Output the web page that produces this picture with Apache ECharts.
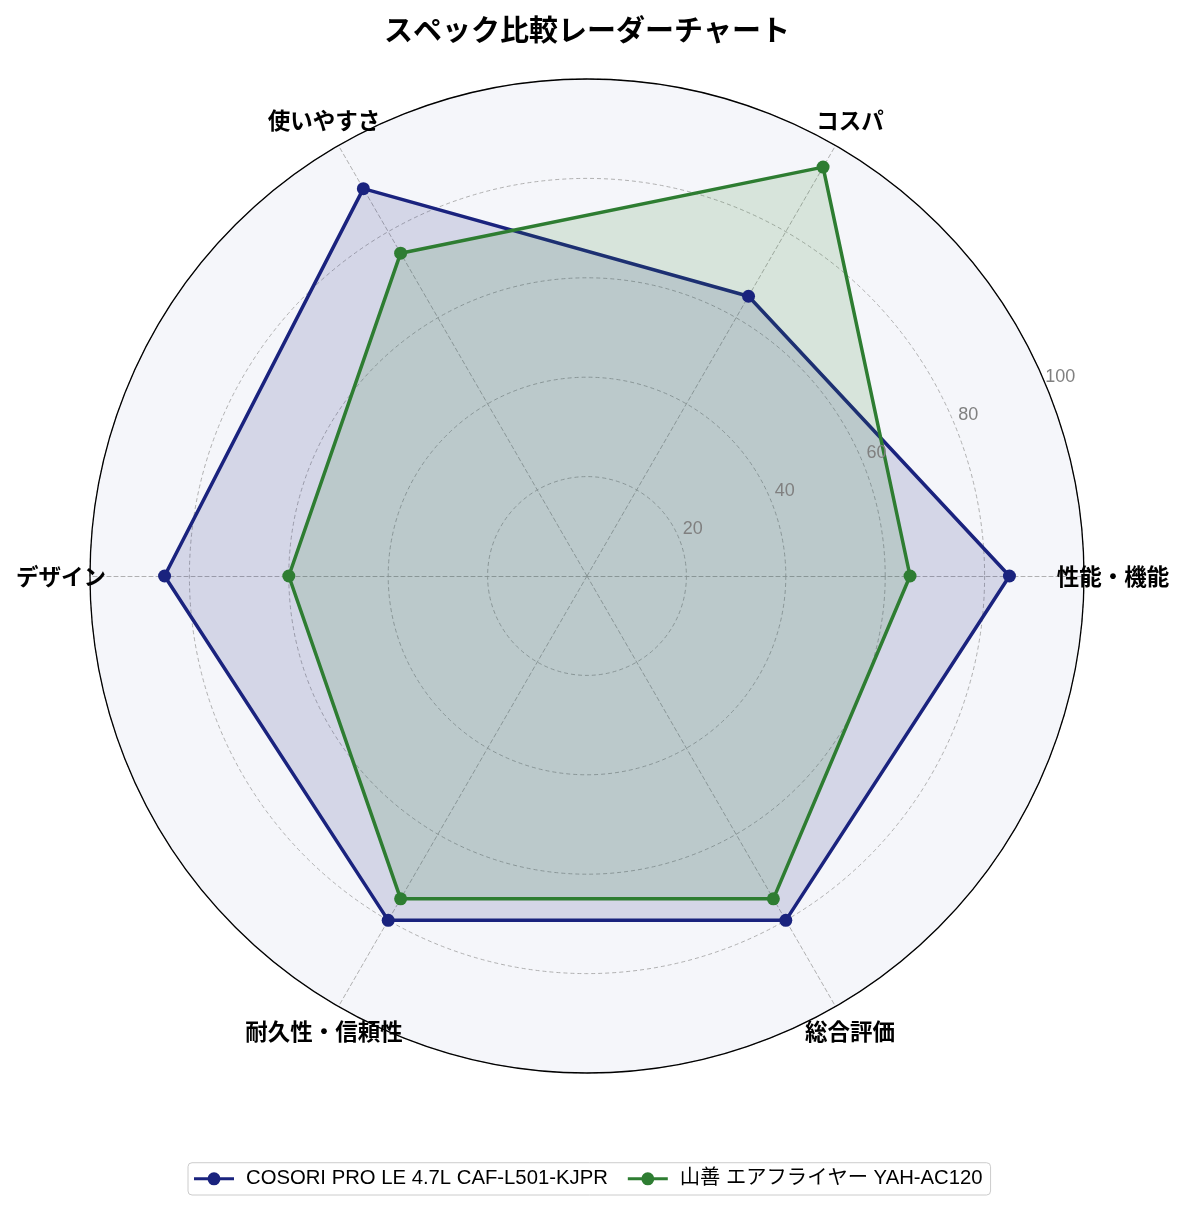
<!DOCTYPE html>
<html><head><meta charset="utf-8">
<script src="https://cdn.jsdelivr.net/npm/echarts@6/dist/echarts.min.js"></script>
<style>html,body{margin:0;padding:0;background:#fff}#c{width:1185px;height:1211px}</style>
</head><body><div id="c"></div>
<script>
const title = 'スペック比較レーダーチャート';
const categories = ['性能・機能', 'コスパ', '使いやすさ', 'デザイン', '耐久性・信頼性', '総合評価'];
const seriesNames = ['COSORI PRO LE 4.7L CAF-L501-KJPR', '山善 エアフライヤー YAH-AC120'];
const cosoriValues = [85, 65, 90, 85, 80, 80];
const yamazenValues = [65, 95, 75, 60, 75, 75];
const ringMax = 100;
const ringStep = 20;
const colors = ['#1a237e', '#2e7d32'];

const FONT = '"Noto Sans CJK JP", "Noto Sans", sans-serif';
const LATIN = '"Liberation Sans", "Noto Sans CJK JP", sans-serif';
const CENTER = [587, 576];
const R = 497;
const legendIcon = 'path://M0,4.5 H40 V7.5 H0 Z M13.5,6 A6.5,6.5 0 1,1 26.5,6 A6.5,6.5 0 1,1 13.5,6 Z';

const chart = echarts.init(document.getElementById('c'));
chart.setOption({
  backgroundColor: '#ffffff',
  textStyle: { fontFamily: FONT },
  title: {
    text: title, left: 582, textAlign: 'center', top: 10,
    textStyle: { fontSize: 29, fontWeight: 'bold', color: '#000', fontFamily: FONT }
  },
  legend: {
    data: seriesNames,
    bottom: 16, left: 188,
    icon: legendIcon, itemWidth: 40, itemHeight: 13, itemGap: 20,
    borderColor: '#cccccc', borderWidth: 1, borderRadius: 4,
    padding: [6, 8, 6, 6],
    textStyle: { fontSize: 20.3, color: '#000', fontFamily: LATIN, padding: [0, 0, 0, 7] }
  },
  radar: {
    center: CENTER, radius: R, startAngle: 0, shape: 'circle',
    splitNumber: ringMax / ringStep,
    indicator: categories.map(n => ({ name: n, min: 0, max: ringMax })),
    axisName: {
      color: '#000', fontSize: 22.5, fontWeight: 'bold', fontFamily: FONT,
      align: 'center', verticalAlign: 'middle'
    },
    nameGap: 29,
    splitLine: { lineStyle: { color: '#a8a8a8', width: 0.9, type: [4, 3] } },
    splitArea: { show: true, areaStyle: { color: ['#f5f6fa'] } },
    axisLine: { lineStyle: { color: '#a8a8a8', width: 0.9, type: [4, 3] } }
  },
  polar: { center: CENTER, radius: R },
  angleAxis: {
    type: 'value', min: 0, max: 360, startAngle: 22.5,
    axisLine: { show: true, lineStyle: { color: '#000', width: 1.3 } },
    axisTick: { show: false }, axisLabel: { show: false }, splitLine: { show: false },
    z: 4
  },
  radiusAxis: {
    type: 'value', min: 0, max: ringMax, interval: ringStep,
    axisLine: { show: false }, axisTick: { show: false }, splitLine: { show: false },
    axisLabel: {
      show: true, showMinLabel: false, margin: 0,
      align: 'center', verticalAlign: 'bottom',
      padding: [0, 0, 0, 28],
      fontSize: 18, color: '#808080', fontFamily: LATIN
    },
    z: 5
  },
  series: [{
    type: 'radar',
    symbol: 'circle', symbolSize: 13,
    data: [
      { name: seriesNames[0], value: cosoriValues,
        itemStyle: { color: colors[0] },
        lineStyle: { color: colors[0], width: 3.5 },
        areaStyle: { color: colors[0], opacity: 0.15 } },
      { name: seriesNames[1], value: yamazenValues,
        itemStyle: { color: colors[1] },
        lineStyle: { color: colors[1], width: 3.5 },
        areaStyle: { color: colors[1], opacity: 0.15 } }
    ]
  }]
});
</script></body></html>
